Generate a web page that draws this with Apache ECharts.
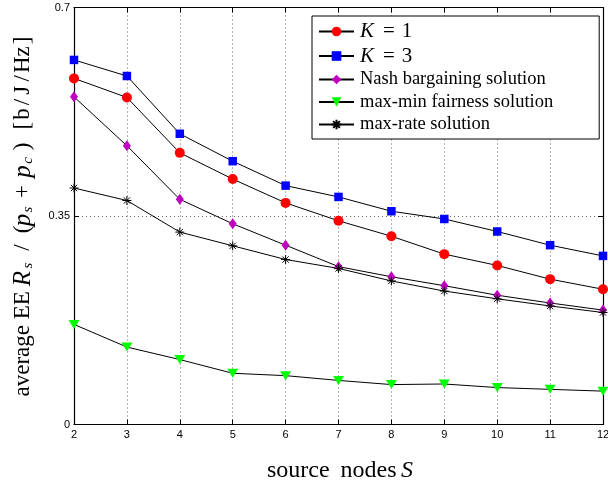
<!DOCTYPE html>
<html>
<head>
<meta charset="utf-8">
<script src="https://cdn.jsdelivr.net/npm/echarts@6/dist/echarts.min.js"></script>
<style>
  html, body { margin: 0; padding: 0; background: #fff; }
  #chart { width: 608px; height: 483px; }
</style>
</head>
<body>
<div id="chart"></div>
<script>
// Number of source nodes S on the horizontal axis
const sourceNodes = [2, 3, 4, 5, 6, 7, 8, 9, 10, 11, 12];

// Average energy efficiency per scheme [b/J/Hz]
const eeK1 = [0.581, 0.549, 0.456, 0.412, 0.372, 0.342, 0.316, 0.286, 0.267, 0.244, 0.227];
const eeK3 = [0.612, 0.585, 0.488, 0.442, 0.401, 0.382, 0.358, 0.345, 0.324, 0.301, 0.283];
const eeNash = [0.550, 0.468, 0.378, 0.337, 0.301, 0.265, 0.248, 0.233, 0.217, 0.204, 0.192];
const eeMaxMin = [0.168, 0.130, 0.109, 0.086, 0.082, 0.074, 0.067, 0.068, 0.062, 0.059, 0.056];
const eeMaxRate = [0.397, 0.376, 0.323, 0.300, 0.277, 0.262, 0.241, 0.224, 0.211, 0.199, 0.188];

// Axis ticks
const yTicks = [0, 0.35, 0.7];

const pairs = ys => sourceNodes.map((s, i) => [s, ys[i]]);

const serif = '"Liberation Serif", "Times New Roman", serif';
const sans = '"Liberation Sans", Arial, sans-serif';

// Eight-armed asterisk marker drawn as strokes
const asterisk = 'path://M5 0L5 10M0 5L10 5M1.5 1.5L8.5 8.5M1.5 8.5L8.5 1.5';

// Builds a rich-text label from [style, text, width] pieces; the first piece
// is left-aligned and every later piece is centred in its own slot, which
// gives control over the math spacing.
function mathLabel(parts, base) {
  const rich = {};
  const text = parts.map((p, i) => {
    const key = 't' + i;
    rich[key] = Object.assign({}, base[p[0]], p[2] ? { width: p[2], align: i === 0 ? 'left' : 'center' } : {});
    return '{' + key + '|' + p[1] + '}';
  }).join('');
  return { text, rich };
}

const titleBase = {
  rm: { fontFamily: serif, fontSize: 23, lineHeight: 26, color: '#000' },
  it: { fontFamily: serif, fontSize: 25, fontStyle: 'italic', lineHeight: 26, color: '#000' },
  sub: { fontFamily: serif, fontSize: 15, fontStyle: 'italic', lineHeight: 12, verticalAlign: 'bottom', color: '#000' }
};

const yTitle = mathLabel([
  ['rm', 'average EE', 108],
  ['it', 'R', 20], ['sub', 's', 6],
  ['rm', '/', 30], ['rm', '(', 6],
  ['it', 'p', 13], ['sub', 's', 8],
  ['rm', '+', 28],
  ['it', 'p', 12], ['sub', 'c', 10],
  ['rm', ')', 18], ['rm', ' ', 6],
  ['rm', '[', 11.5], ['rm', 'b', 12], ['rm', '/', 12], ['rm', 'J', 11.5],
  ['rm', '/', 12.5], ['rm', 'H', 14.5], ['rm', 'z', 12], ['rm', ']', 10]
], titleBase);

const xTitle = mathLabel([
  ['rm', 'source', 71],
  ['rm', 'nodes', 61],
  ['it', 'S', 16]
], {
  rm: { fontFamily: serif, fontSize: 24, lineHeight: 26, color: '#000' },
  it: { fontFamily: serif, fontSize: 24, fontStyle: 'italic', lineHeight: 26, color: '#000' }
});

function lineSeries(name, ys, symbol, size, color, extra) {
  return Object.assign({
    name: name,
    type: 'line',
    data: pairs(ys),
    symbol: symbol,
    symbolSize: size,
    showAllSymbol: true,
    lineStyle: { color: '#000', width: 1 },
    itemStyle: { color: color, borderWidth: 0 },
    emphasis: { disabled: true },
    animation: false,
    z: 3
  }, extra || {});
}

const chart = echarts.init(document.getElementById('chart'), null, { renderer: 'canvas' });

const tickStyle = { inside: true, length: 5, lineStyle: { color: '#000', width: 1 } };
const frameLine = { show: true, onZero: false, lineStyle: { color: '#000', width: 1.2 } };
const dotted = { show: true, lineStyle: { color: '#666', width: 1, type: [1, 3] } };

chart.setOption({
  backgroundColor: '#fff',
  animation: false,
  grid: { left: 74, right: 5, top: 7.5, bottom: 58.5, containLabel: false, outerBoundsMode: 'none' },
  legend: {
    orient: 'vertical',
    left: 312,
    top: 16,
    width: 286,
    padding: [5, 46, 5, 6],
    itemGap: 3.5,
    itemWidth: 35,
    itemHeight: 12,
    backgroundColor: '#fff',
    borderColor: '#000',
    borderWidth: 1,
    borderRadius: 0,
    selectedMode: false,
    textStyle: {
      fontFamily: serif, fontSize: 18.5, lineHeight: 18, color: '#000', padding: [0, 0, 0, 1],
      rich: {
        k: { fontFamily: serif, fontSize: 21, fontStyle: 'italic', lineHeight: 18, width: 20, align: 'left', color: '#000' },
        eq: { fontFamily: serif, fontSize: 21, lineHeight: 18, width: 18, align: 'center', color: '#000' },
        n: { fontFamily: serif, fontSize: 21, lineHeight: 18, width: 18, align: 'center', color: '#000' }
      }
    },
    formatter: function (name) {
      if (name === 'K = 1') return '{k|K}{eq|=}{n|1}';
      if (name === 'K = 3') return '{k|K}{eq|=}{n|3}';
      return name;
    },
    data: ['K = 1', 'K = 3', 'Nash bargaining solution', 'max-min fairness solution', 'max-rate solution']
  },
  xAxis: [{
    type: 'value',
    min: 2, max: 12, interval: 1,
    position: 'bottom',
    name: xTitle.text,
    nameLocation: 'middle',
    nameGap: 33,
    nameTextStyle: { rich: xTitle.rich, padding: [0, 0, 0, 5] },
    axisLine: frameLine,
    axisTick: tickStyle,
    axisLabel: { fontFamily: sans, fontSize: 11, color: '#000', margin: 5 },
    splitLine: dotted
  }, {
    type: 'value',
    min: 2, max: 12, interval: 1,
    position: 'top',
    axisLine: frameLine,
    axisTick: tickStyle,
    axisLabel: { show: false },
    splitLine: { show: false }
  }],
  yAxis: [{
    type: 'value',
    min: 0, max: 0.7, interval: 0.35,
    position: 'left',
    name: yTitle.text,
    nameLocation: 'middle',
    nameGap: 38,
    nameTextStyle: { rich: yTitle.rich },
    axisLine: frameLine,
    axisTick: tickStyle,
    axisLabel: {
      fontFamily: sans, fontSize: 11, color: '#000', margin: 4,
      formatter: v => yTicks.includes(+v.toFixed(2)) ? String(+v.toFixed(2)) : ''
    },
    splitLine: dotted
  }, {
    type: 'value',
    min: 0, max: 0.7, interval: 0.35,
    position: 'right',
    axisLine: frameLine,
    axisTick: tickStyle,
    axisLabel: { show: false },
    splitLine: { show: false }
  }],
  series: [
    lineSeries('K = 1', eeK1, 'circle', 10, '#ff0000'),
    lineSeries('K = 3', eeK3, 'rect', 8.5, '#0000ff'),
    lineSeries('Nash bargaining solution', eeNash, 'diamond', [8, 11], '#c000c0'),
    lineSeries('max-min fairness solution', eeMaxMin, 'triangle', [11, 9], '#00ff00', { symbolRotate: 180 }),
    lineSeries('max-rate solution', eeMaxRate, asterisk, 9, '#000', {
      itemStyle: { color: 'rgba(0,0,0,0)', borderColor: '#000', borderWidth: 1 }
    })
  ]
});
</script>
</body>
</html>
